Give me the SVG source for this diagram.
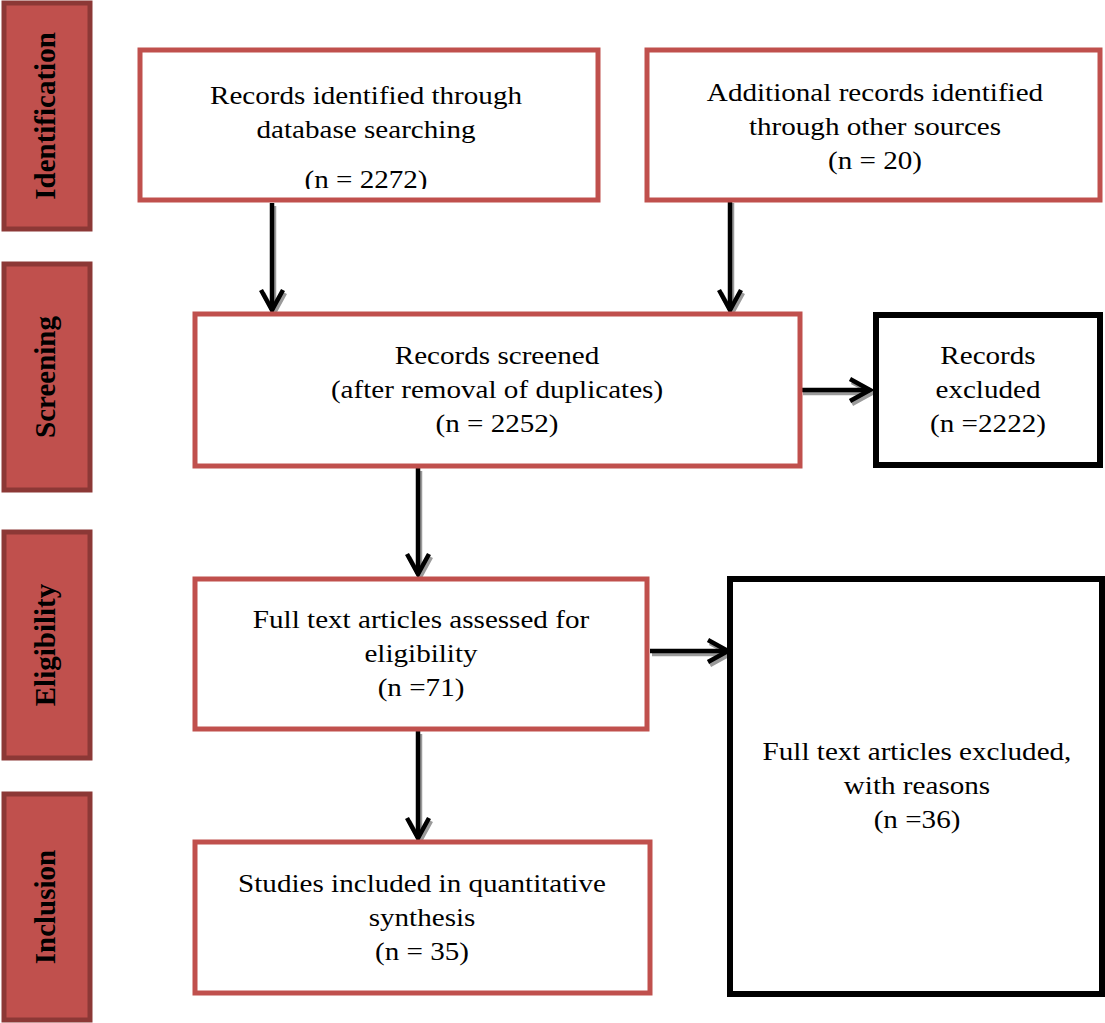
<svg xmlns="http://www.w3.org/2000/svg" width="1105" height="1023" viewBox="0 0 1105 1023">
<style>
.phase rect{fill:#C0504D;stroke:#8C3836;stroke-width:5}
.phase text{font-family:"Liberation Serif","Times New Roman",serif;font-weight:bold;font-size:29px;fill:#000;text-anchor:middle}
.rbox{fill:#fff;stroke:#C0504D;stroke-width:5}
.kbox{fill:#fff;stroke:#000;stroke-width:6}
.t{font-family:"Liberation Serif","Times New Roman",serif;font-size:26px;fill:#000;text-anchor:middle}
.ln{fill:none;stroke:#000;stroke-width:4.5}
.sh{fill:none;stroke:#9a9a9a;stroke-width:4.5}
</style>
<defs>
<marker id="ah" markerUnits="userSpaceOnUse" markerWidth="40" markerHeight="40" refX="0" refY="0" viewBox="-30 -20 40 40" orient="auto" overflow="visible">
<path d="M-20,-11 L0,0 L-20,11" fill="none" stroke="#000" stroke-width="4.5"/>
</marker>
<marker id="ahs" markerUnits="userSpaceOnUse" markerWidth="40" markerHeight="40" refX="0" refY="0" viewBox="-30 -20 40 40" orient="auto" overflow="visible">
<path d="M-20,-11 L0,0 L-20,11" fill="none" stroke="#9a9a9a" stroke-width="4.5"/>
</marker>
<clipPath id="c1"><rect x="140" y="50" width="458" height="139"/></clipPath>
</defs>
<rect width="1105" height="1023" fill="#fff"/>

<g id="phase-identification" class="phase"><rect x="4" y="3" width="86" height="226"/><text transform="translate(55,116) rotate(-90)">Identification</text></g>
<g id="phase-screening" class="phase"><rect x="4" y="264" width="86" height="226"/><text transform="translate(55,377) rotate(-90)">Screening</text></g>
<g id="phase-eligibility" class="phase"><rect x="4" y="532" width="86" height="226"/><text transform="translate(55,645) rotate(-90)">Eligibility</text></g>
<g id="phase-inclusion" class="phase"><rect x="4" y="794" width="86" height="226"/><text transform="translate(55,907) rotate(-90)">Inclusion</text></g>

<g id="connectors">
<g transform="translate(2,3)">
<path class="sh" d="M272,203 L272,310" marker-end="url(#ahs)"/>
<path class="sh" d="M730,200 L730,310" marker-end="url(#ahs)"/>
<path class="sh" d="M418,468 L418,574" marker-end="url(#ahs)"/>
<path class="sh" d="M418,731 L418,838" marker-end="url(#ahs)"/>
<path class="sh" d="M801,390 L870,390" marker-end="url(#ahs)"/>
<path class="sh" d="M650,651 L728,651" marker-end="url(#ahs)"/>
</g>
<path class="ln" d="M272,203 L272,310" marker-end="url(#ah)"/>
<path class="ln" d="M730,200 L730,310" marker-end="url(#ah)"/>
<path class="ln" d="M418,468 L418,574" marker-end="url(#ah)"/>
<path class="ln" d="M418,731 L418,838" marker-end="url(#ah)"/>
<path class="ln" d="M801,390 L870,390" marker-end="url(#ah)"/>
<path class="ln" d="M650,651 L728,651" marker-end="url(#ah)"/>
</g>

<g id="node-db"><rect class="rbox" x="140" y="50" width="458" height="150"/>
<g clip-path="url(#c1)"><g transform="translate(366 0) scale(1.12 1)">
<text class="t" x="0" y="104">Records identified through</text>
<text class="t" x="0" y="138">database searching</text>
<text class="t" x="0" y="188">(n = 2272)</text></g></g></g>

<g id="node-other"><rect class="rbox" x="647" y="50" width="453" height="150"/>
<g transform="translate(875 0) scale(1.12 1)">
<text class="t" x="0" y="101">Additional records identified</text>
<text class="t" x="0" y="135">through other sources</text>
<text class="t" x="0" y="169">(n = 20)</text></g></g>

<g id="node-screened"><rect class="rbox" x="195" y="314" width="605" height="152"/>
<g transform="translate(497 0) scale(1.12 1)">
<text class="t" x="0" y="364">Records screened</text>
<text class="t" x="0" y="398">(after removal of duplicates)</text>
<text class="t" x="0" y="432">(n = 2252)</text></g></g>

<g id="node-excluded"><rect class="kbox" x="876" y="315" width="224" height="150"/>
<g transform="translate(988 0) scale(1.12 1)">
<text class="t" x="0" y="364">Records</text>
<text class="t" x="0" y="398">excluded</text>
<text class="t" x="0" y="432">(n =2222)</text></g></g>

<g id="node-fulltext"><rect class="rbox" x="195" y="579" width="452" height="150"/>
<g transform="translate(421 0) scale(1.12 1)">
<text class="t" x="0" y="628">Full text articles assessed for</text>
<text class="t" x="0" y="662">eligibility</text>
<text class="t" x="0" y="696">(n =71)</text></g></g>

<g id="node-ftexcluded"><rect class="kbox" x="730" y="579" width="372" height="415"/>
<g transform="translate(917 0) scale(1.12 1)">
<text class="t" x="0" y="760">Full text articles excluded,</text>
<text class="t" x="0" y="794">with reasons</text>
<text class="t" x="0" y="828">(n =36)</text></g></g>

<g id="node-included"><rect class="rbox" x="195" y="842" width="455" height="151"/>
<g transform="translate(422 0) scale(1.12 1)">
<text class="t" x="0" y="892">Studies included in quantitative</text>
<text class="t" x="0" y="926">synthesis</text>
<text class="t" x="0" y="960">(n = 35)</text></g></g>
</svg>
